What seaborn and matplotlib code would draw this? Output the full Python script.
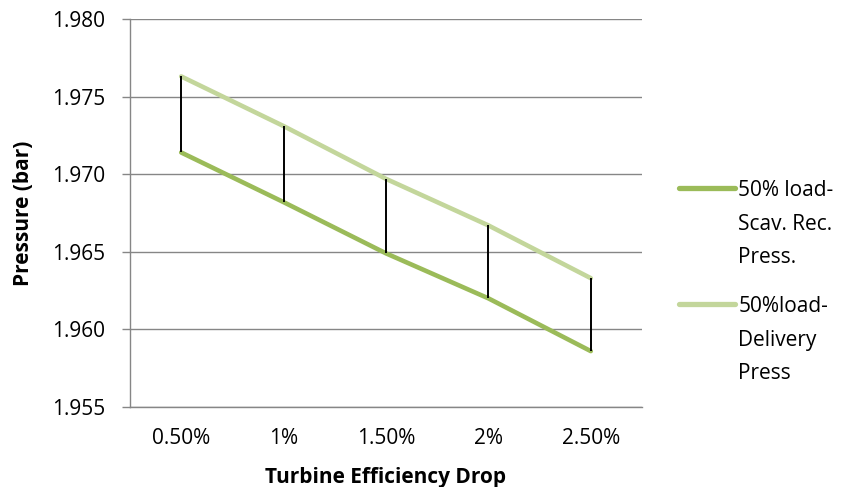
import numpy as np
import pandas as pd
import matplotlib
matplotlib.use("Agg")
import matplotlib.pyplot as plt
from matplotlib.legend_handler import HandlerLine2D
import seaborn as sns

# Turbine efficiency drop cases and resulting pressures (bar) at 50% load
categories = ["0.50%", "1%", "1.50%", "2%", "2.50%"]
scav_rec_press = [1.9714, 1.9682, 1.9649, 1.9620, 1.9586]
delivery_press = [1.9763, 1.9731, 1.9697, 1.9667, 1.9633]
series_names = ["50% load-\nScav. Rec.\nPress.", "50%load-\nDelivery\nPress"]
y_ticks = [1.955, 1.960, 1.965, 1.970, 1.975, 1.980]

df = pd.DataFrame({
    "drop": categories * 2,
    "pressure": scav_rec_press + delivery_press,
    "series": [series_names[0]] * len(categories) + [series_names[1]] * len(categories),
})

sns.set_theme(style="white")
plt.rcParams["font.family"] = ["Open Sans", "DejaVu Sans"]

GRID = "#868686"
FS = 15

fig = plt.figure(figsize=(8.47, 4.87), dpi=100)
ax = fig.add_axes([130 / 847, 1 - 407 / 487, 512 / 847, 388 / 487])

ax.yaxis.grid(True, color=GRID, linewidth=1.0)
ax.set_axisbelow(True)

sns.lineplot(data=df, x="drop", y="pressure", hue="series", sort=False,
             palette=["#9BBB59", "#C3D69B"], linewidth=3.3, ax=ax,
             legend=True, zorder=3)

# high-low connectors between the two series
xpos = np.arange(len(categories))
ax.vlines(xpos, scav_rec_press, delivery_press, colors="black",
          linewidth=1.4, zorder=4)

ax.set_xlim(-0.5, len(categories) - 0.5)
ax.set_ylim(y_ticks[0], y_ticks[-1])
ax.set_yticks(y_ticks)
ax.set_yticklabels([f"{v:.3f}" for v in y_ticks])
ax.set_xticks(xpos)
ax.set_xticklabels(categories)

for side in ("top", "right"):
    ax.spines[side].set_visible(False)
for side in ("left", "bottom"):
    ax.spines[side].set_color(GRID)
    ax.spines[side].set_linewidth(1.0)

ax.tick_params(axis="y", direction="out", length=5.8, width=1.0, color=GRID,
               pad=12, labelsize=FS, labelcolor="black", left=True)
ax.tick_params(axis="x", length=0, pad=15, labelsize=FS, labelcolor="black")

ax.set_xlabel("Turbine Efficiency Drop", fontsize=FS, fontweight="bold",
              labelpad=13, color="black")
ax.set_ylabel("Pressure (bar)", fontsize=FS, fontweight="bold", color="black")
ax.yaxis.set_label_coords(-0.188, 0.5)


LINESPACING = 1.79


class FirstLineHandler(HandlerLine2D):
    """Legend line placed level with the first line of a multi-line label."""

    def create_artists(self, legend, orig_handle, xdescent, ydescent,
                       width, height, fontsize, trans):
        artists = super().create_artists(legend, orig_handle, xdescent,
                                         ydescent, width, height, fontsize,
                                         trans)
        shift = LINESPACING * 1.0 * fontsize
        for a in artists:
            a.set_ydata(np.asarray(a.get_ydata(), dtype=float) + shift)
        return artists


handles, labels = ax.get_legend_handles_labels()
ax.get_legend().remove()
leg = fig.legend(handles, labels, loc="upper left",
                 bbox_to_anchor=(679 / 847, 1 - 180 / 487),
                 frameon=False, fontsize=FS, borderpad=0, borderaxespad=0,
                 handlelength=2.7, handletextpad=0.15, labelspacing=1.33,
                 handler_map={h: FirstLineHandler() for h in handles})
for t in leg.get_texts():
    t.set_linespacing(LINESPACING)
    t.set_color("black")
for h in leg.legend_handles:
    h.set_linewidth(3.8)
    h.set_solid_capstyle("round")

fig.savefig("out.png", dpi=100)
